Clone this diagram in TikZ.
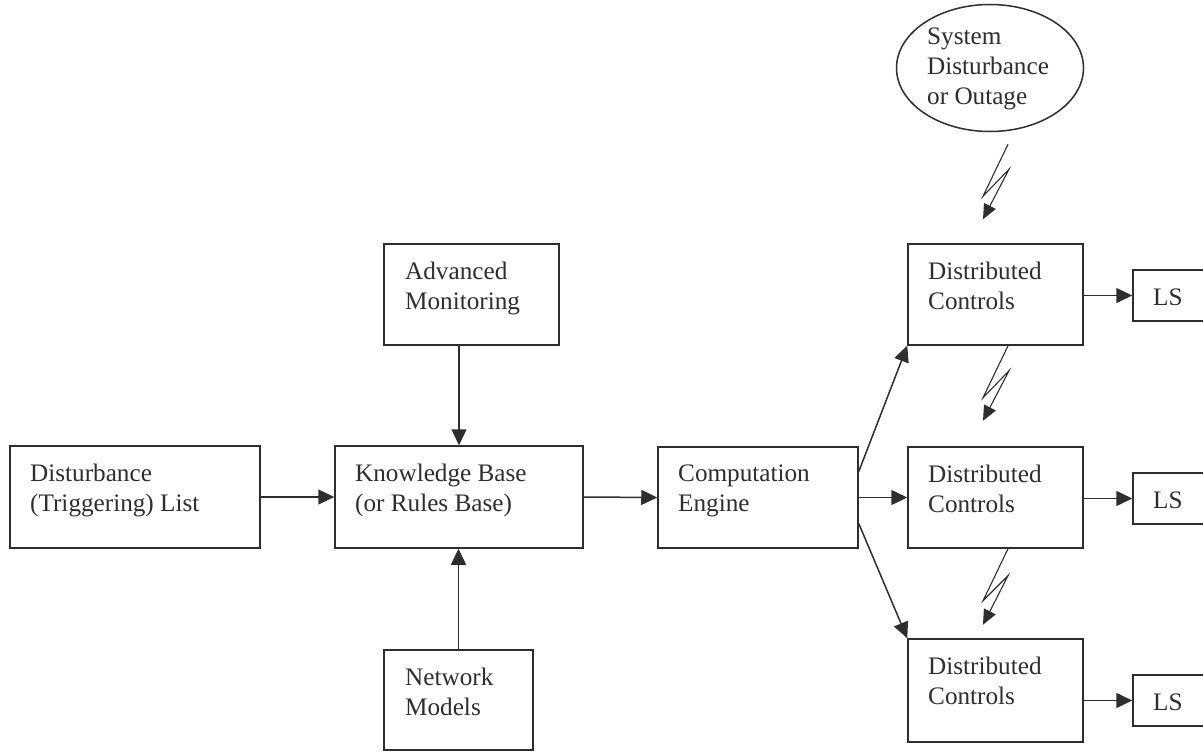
\documentclass[tikz,border=0pt]{standalone}
\usepackage{fontspec}
\setmainfont{Liberation Serif}
\usetikzlibrary{arrows.meta,shapes.geometric}
\definecolor{ink}{HTML}{2E2E2E}
\begin{document}
\begin{tikzpicture}[x=1pt,y=-1pt,
  box/.style={draw=ink, line width=1.5pt, inner sep=0pt, minimum width=#1},
  txt/.style={anchor=north west, align=left, inner sep=0pt, text=ink,
    font=\fontsize{25.2}{30}\selectfont},
  conn/.style={draw=ink, line width=1.5pt, -{Triangle[length=16pt,width=15pt]}},
  bolt/.style={draw=ink, line width=1.1pt, line join=miter, -{Triangle[length=15pt,width=13pt]}}
]
\useasboundingbox (0,0) rectangle (1203,752);

% boxes
\node[box=250pt, minimum height=102pt] (dist) at (135,497) {};
\node[box=248pt, minimum height=102pt] (kb) at (459,497) {};
\node[box=175pt, minimum height=101pt] (am) at (471.5,294.5) {};
\node[box=149pt, minimum height=100pt] (nm) at (458.5,700) {};
\node[box=200pt, minimum height=101pt] (ce) at (758,497.5) {};
\node[box=175pt, minimum height=101pt] (dc1) at (995.5,294.5) {};
\node[box=175pt, minimum height=101pt] (dc2) at (995.5,497.5) {};
\node[box=175pt, minimum height=103pt] (dc3) at (995.5,690.5) {};
\node[box=82pt, minimum height=51pt] (ls1) at (1174,295.5) {};
\node[box=82pt, minimum height=51pt] (ls2) at (1174,498.5) {};
\node[box=82pt, minimum height=51pt] (ls3) at (1174,700.5) {};
\node[draw=ink, line width=1.5pt, ellipse, inner sep=0pt, minimum width=187pt, minimum height=127pt] (ell) at (990,68) {};

% texts
\node[txt] (dist-t) at (30,464) {Disturbance\\(Triggering) List};
\node[txt] (kb-t) at (355,464) {Knowledge Base\\(or Rules Base)};
\node[txt] (am-t) at (405,262) {Advanced\\Monitoring};
\node[txt] (nm-t) at (405,668) {Network\\Models};
\node[txt] (ce-t) at (678,465) {Computation\\Engine};
\node[txt] (dc1-t) at (928,262) {Distributed\\Controls};
\node[txt] (dc2-t) at (928,465) {Distributed\\Controls};
\node[txt] (dc3-t) at (928,657) {Distributed\\Controls};
\node[txt] (ls1-t) at (1153,289) {LS};
\node[txt] (ls2-t) at (1153,492) {LS};
\node[txt] (ls3-t) at (1153,694) {LS};
\node[txt] (ell-t) at (927,28) {System\\Disturbance\\or Outage};

% connectors
\draw[conn] (dist.east) -- (kb.west);
\draw[conn] (kb.north |- am.south) -- (kb.north);
\draw[conn] (nm.north) -- (nm.north |- kb.south);
\draw[conn] (kb.east) -- (ce.west);
\draw[conn] ([yshift=26pt]ce.east) -- (dc1.south west);
\draw[conn] (ce.east) -- (dc2.west);
\draw[conn] ([yshift=-26pt]ce.east) -- (dc3.north west);
\draw[conn] (dc1.east |- ls1.west) -- (ls1.west);
\draw[conn] (dc2.east |- ls2.west) -- (ls2.west);
\draw[conn] (dc3.east |- ls3.west) -- (ls3.west);

% lightning arrows
\coordinate (b1) at ([xshift=18pt,yshift=-12pt]ell.south);
\coordinate (b2) at ([xshift=12.5pt]dc1.south);
\coordinate (b3) at ([xshift=12.5pt]dc2.south);
\draw[bolt] (b1) -- ++(-25,52) -- ++(26,-27) -- ++(-26,50);
\draw[bolt] (b2) -- ++(-25,52) -- ++(26,-27) -- ++(-26,50);
\draw[bolt] (b3) -- ++(-25,52) -- ++(25,-25) -- ++(-25,49);
\end{tikzpicture}
\end{document}
